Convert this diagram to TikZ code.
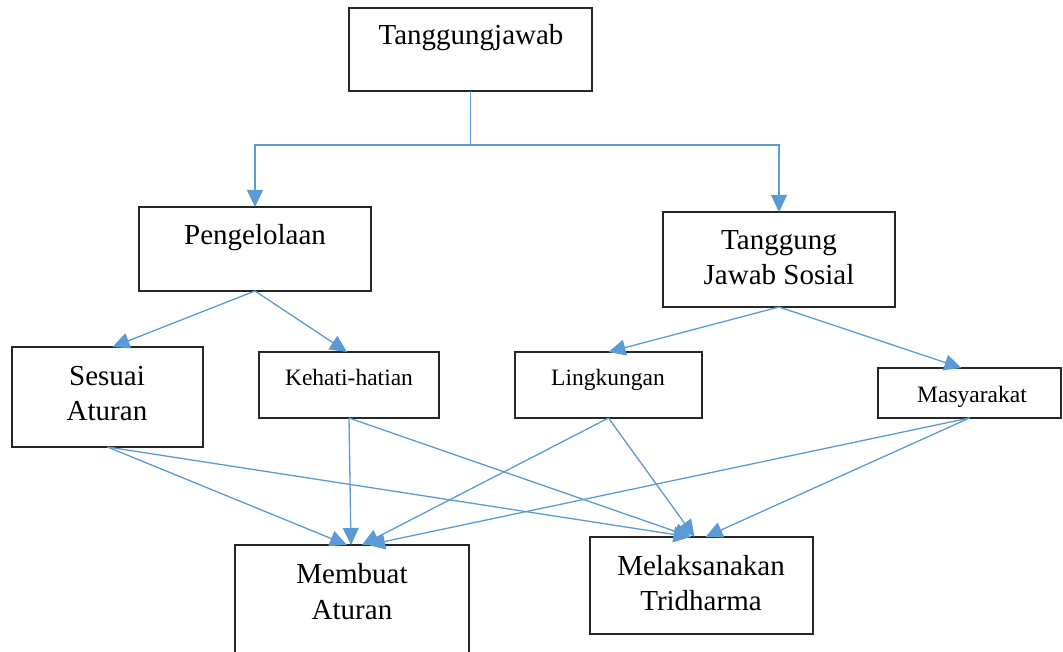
\documentclass[tikz,border=0pt]{standalone}
\usepackage{fontspec}
\setmainfont{Liberation Serif}
\usetikzlibrary{arrows.meta}
\definecolor{linkblue}{HTML}{5B9BD5}
\begin{document}
\begin{tikzpicture}[x=1pt,y=-1pt,
  box/.style={draw=black!85, line width=1.5pt, rectangle, inner sep=0pt, outer sep=0pt},
  big/.style={font=\fontsize{29}{35}\selectfont, anchor=base, inner sep=0pt},
  small/.style={font=\fontsize{23.5}{28}\selectfont, anchor=base, inner sep=0pt},
  link/.style={draw=linkblue, line width=1.3pt, -{Triangle[length=17pt,width=16pt]}}
]
\useasboundingbox (0,0) rectangle (1063,652);

% boxes
\node[box, minimum width=243pt, minimum height=83pt]  (tj)  at (470.5,49.5) {};
\node[box, minimum width=232pt, minimum height=84pt]  (pg)  at (255,249) {};
\node[box, minimum width=232pt, minimum height=95pt]  (tjs) at (779,259.5) {};
\node[box, minimum width=191pt, minimum height=100pt] (sa)  at (107.5,397) {};
\node[box, minimum width=180pt, minimum height=66pt]  (kh)  at (349,385) {};
\node[box, minimum width=187pt, minimum height=66pt]  (lk)  at (608.5,385) {};
\node[box, minimum width=183pt, minimum height=50pt]  (ms)  at (969.5,393) {};
\node[box, minimum width=234pt, minimum height=120pt] (ma)  at (352,605) {};
\node[box, minimum width=223pt, minimum height=97pt]  (mt)  at (701.5,585.5) {};

% labels
\node[big] (tjT) at (471,45) {Tanggungjawab};
\node[big] (pgT) at (255,245) {Pengelolaan};
\node[big] (tjsT1) at (779,250) {Tanggung};
\node[big] (tjsT2) at (779,285) {Jawab Sosial};
\node[big] (saT1) at (107,385) {Sesuai};
\node[big] (saT2) at (107,420) {Aturan};
\node[small] (khT) at (349,385) {Kehati-hatian};
\node[small] (lkT) at (608,385) {Lingkungan};
\node[small] (msT) at (972,402) {Masyarakat};
\node[big] (maT1) at (352,583) {Membuat};
\node[big] (maT2) at (352,619) {Aturan};
\node[big] (mtT1) at (701,575) {Melaksanakan};
\node[big] (mtT2) at (701,610) {Tridharma};

% connectors
\draw[link] (tj.south) -- ++(0,54) -| (pg.north);
\draw[link] (tj.south) -- ++(0,54) -| (tjs.north);

\draw[link] (pg.south) -- ([xshift=5pt]sa.north);
\draw[link] (pg.south) -- ([xshift=-2pt]kh.north);
\draw[link] (tjs.south) -- (lk.north);
\draw[link] (tjs.south) -- ([xshift=-8pt]ms.north);

\draw[link] (sa.south) -- ([xshift=-5pt]ma.north);
\draw[link] (sa.south) -- ([xshift=-11pt]mt.north);
\draw[link] (kh.south) -- ([xshift=-1pt]ma.north);
\draw[link] (kh.south) -- ([xshift=-10pt]mt.north);
\draw[link] (lk.south) -- ([xshift=10pt]ma.north);
\draw[link] (lk.south) -- ([xshift=-7pt]mt.north);
\draw[link] (ms.south) -- ([xshift=16pt]ma.north);
\draw[link] (ms.south) -- ([xshift=4pt]mt.north);
\end{tikzpicture}
\end{document}
